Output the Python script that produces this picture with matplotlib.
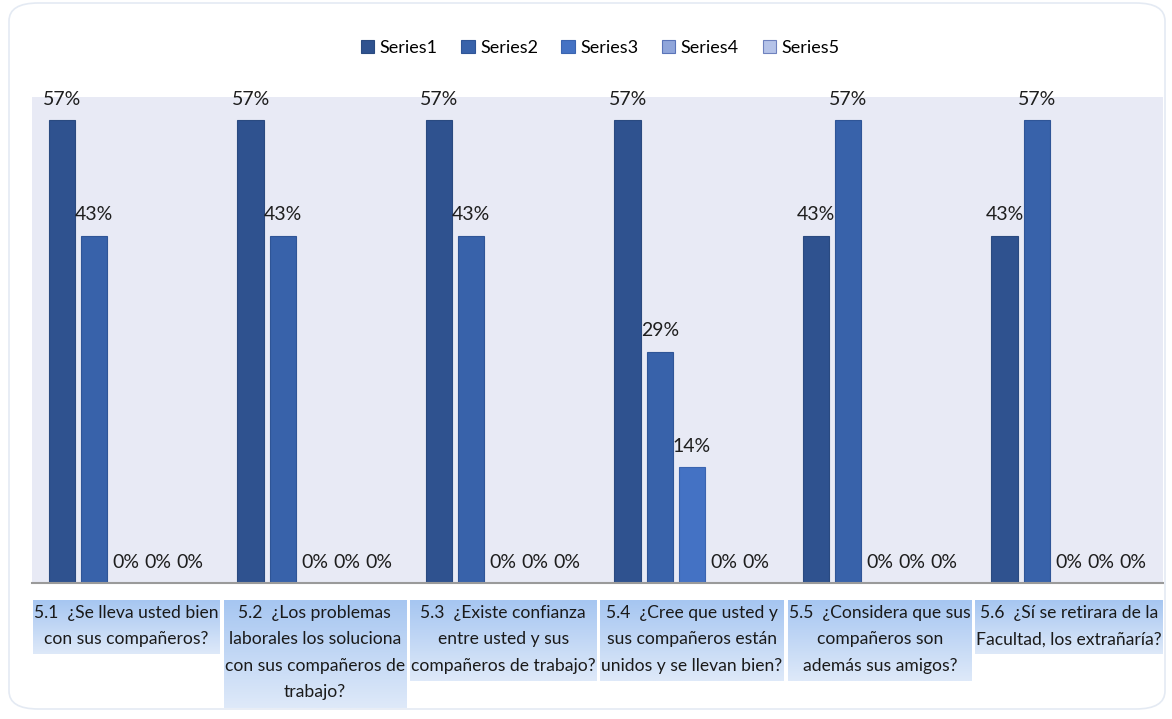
import matplotlib
matplotlib.use("Agg")
import matplotlib.pyplot as plt
import numpy as np
from matplotlib.patches import FancyBboxPatch

# survey answers per question, share of respondents
questions = [
    "5.1  ¿Se lleva usted bien\ncon sus compañeros?",
    "5.2  ¿Los problemas\nlaborales los soluciona\ncon sus compañeros de\ntrabajo?",
    "5.3  ¿Existe confianza\nentre usted y sus\ncompañeros de trabajo?",
    "5.4  ¿Cree que usted y\nsus compañeros están\nunidos y se llevan bien?",
    "5.5  ¿Considera que sus\ncompañeros son\nademás sus amigos?",
    "5.6  ¿Sí se retirara de la\nFacultad, los extrañaría?",
]
series_names = ["Series1", "Series2", "Series3", "Series4", "Series5"]
series1 = [4 / 7, 4 / 7, 4 / 7, 4 / 7, 3 / 7, 3 / 7]
series2 = [3 / 7, 3 / 7, 3 / 7, 2 / 7, 4 / 7, 4 / 7]
series3 = [0, 0, 0, 1 / 7, 0, 0]
series4 = [0, 0, 0, 0, 0, 0]
series5 = [0, 0, 0, 0, 0, 0]
series_values = [series1, series2, series3, series4, series5]

colors = ["#2F528F", "#3862AA", "#4472C4", "#8FA5DA", "#B5C3E8"]
edges = ["#2A4A80", "#2F5597", "#3A64B0", "#5A74B8", "#6F82BE"]

plt.rcParams["font.family"] = ["Lato", "DejaVu Sans"]

W, H = 1172, 719
fig = plt.figure(figsize=(W / 100, H / 100), dpi=100)
fig.patch.set_facecolor("white")

# faint rounded frame around the chart
frame = FancyBboxPatch((9 / W, 10 / H), 1156 / W, 706 / H,
                       boxstyle="round,pad=0,rounding_size=0.025",
                       transform=fig.transFigure, facecolor="none",
                       edgecolor="#E4EAF3", linewidth=1.2)
fig.patches.append(frame)

left, right, top, bottom = 32, 1163, 97, 583
ax = fig.add_axes([left / W, (H - bottom) / H, (right - left) / W, (bottom - top) / H])
ax.set_facecolor("#E8EAF5")

x = np.arange(len(questions))
slot = 0.17
width = 0.14
for i, (name, vals) in enumerate(zip(series_names, series_values)):
    pos = x + (i - 2) * slot
    bars = ax.bar(pos, vals, width, color=colors[i], edgecolor=edges[i],
                  linewidth=0.8, label=name, zorder=2)
    ax.bar_label(bars, labels=[f"{v:.0%}" for v in vals], padding=9,
                 fontsize=14, color="#1E1E1E")

ax.set_xlim(-0.5, len(questions) - 0.5)
ax.set_ylim(0, 0.6)
ax.set_xticks([])
ax.set_yticks([])
for side in ["top", "right", "left"]:
    ax.spines[side].set_visible(False)
ax.spines["bottom"].set_color("#9A9A9A")
ax.spines["bottom"].set_linewidth(1.5)

handles, labels = ax.get_legend_handles_labels()
fig.legend(handles, labels, loc="center", bbox_to_anchor=(0.512, 1 - 48 / H),
           ncol=5, frameon=False, fontsize=13, handlelength=0.75,
           handleheight=0.75, handletextpad=0.3, columnspacing=1.3)

# category captions in gradient boxes under each group
fig.canvas.draw()
renderer = fig.canvas.get_renderer()
grad = np.linspace(0, 1, 64).reshape(-1, 1)
top_c = np.array([0xA6, 0xC6, 0xF1]) / 255
bot_c = np.array([0xDE, 0xE9, 0xF9]) / 255
grad_img = top_c * (1 - grad[..., None]) + bot_c * grad[..., None]
line_h = 27
for i, q in enumerate(questions):
    cx = ax.transData.transform((x[i], 0))[0]
    n = q.count("\n") + 1
    y_top = H - 600
    t = fig.text(cx / W, (y_top - 5) / H, q, ha="center", va="top",
                 multialignment="center", fontsize=12.6, color="#1A1A1A",
                 linespacing=1.8, zorder=5)
    bb = t.get_window_extent(renderer)
    bw = bb.width + 2
    bax = fig.add_axes([(cx - bw / 2) / W, (y_top - n * line_h) / H, bw / W, n * line_h / H],
                       zorder=1)
    bax.imshow(grad_img, aspect="auto", extent=(0, 1, 0, 1))
    bax.set_axis_off()

fig.savefig("out.png", dpi=100)
